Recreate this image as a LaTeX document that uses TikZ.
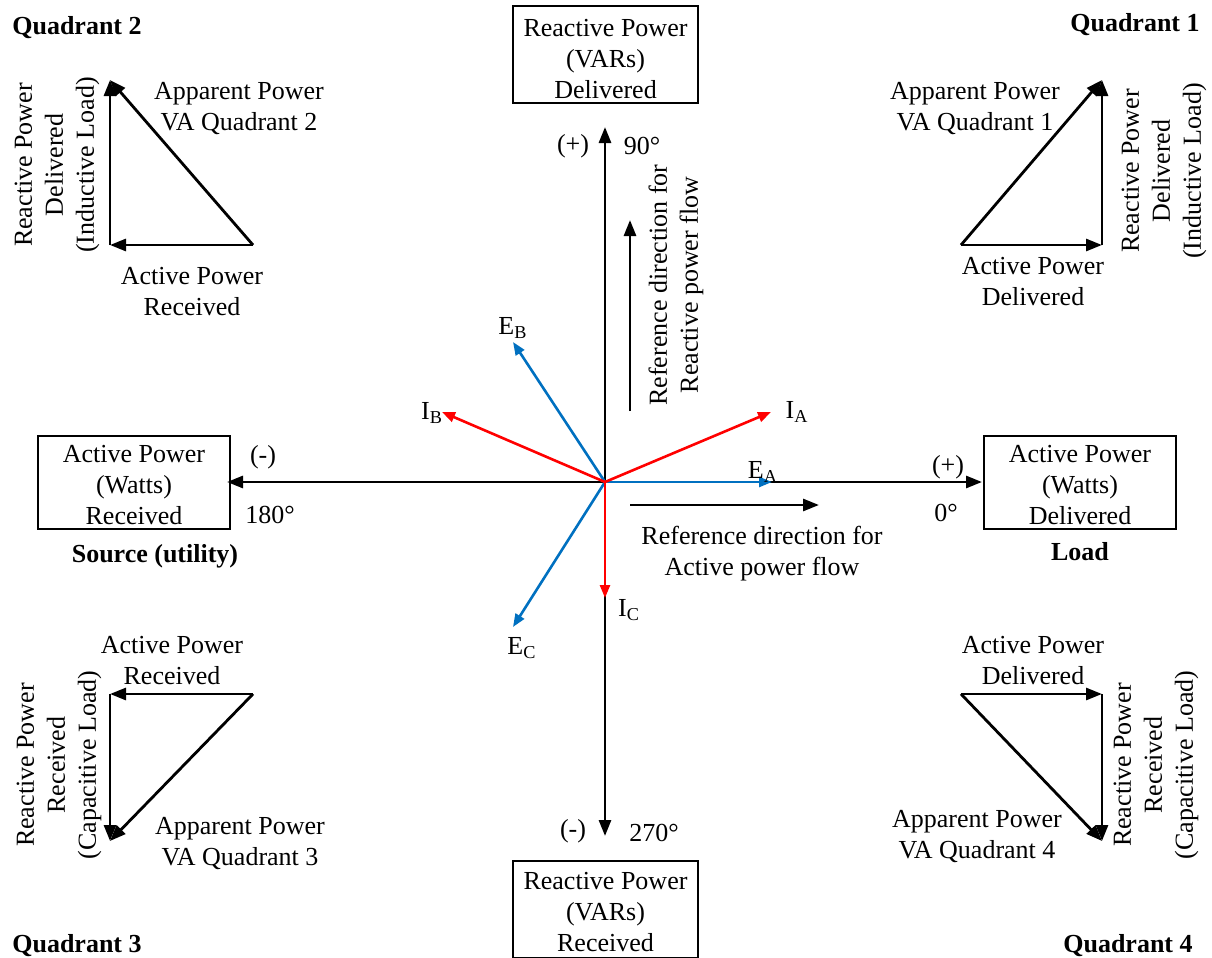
\documentclass[tikz,border=0pt]{standalone}
\usepackage{fontspec}
\setmainfont{Liberation Serif}
\usetikzlibrary{arrows.meta}
\definecolor{phaseblue}{RGB}{0,112,192}
\definecolor{phasered}{RGB}{255,0,0}
\begin{document}
\begin{tikzpicture}[x=0.5pt,y=-0.5pt,
  every node/.style={font=\fontsize{13}{15.5}\selectfont, inner sep=0pt, align=center},
  axisarrow/.style={line width=1.4pt, -{Triangle[length=8pt,width=6pt]}},
  powerarrow/.style={line width=1.4pt, -{Triangle[length=8pt,width=6pt]}},
  phasor/.style={line width=1.3pt, -{Triangle[length=6.5pt,width=5pt]}},
  vbox/.style={draw, line width=1pt, minimum width=92.5pt, minimum height=48.5pt},
  hbox/.style={draw, line width=1pt, minimum width=96pt, minimum height=46.5pt},
  vlabel/.style={rotate=90},
  qlabel/.style={font=\fontsize{13}{15.5}\selectfont\bfseries}]
\useasboundingbox (0,0) rectangle (1212,958);

% origin and axis end points
\coordinate (O) at (605,482);
\coordinate (up) at (605,127);
\coordinate (down) at (605,836);
\coordinate (left) at (227,482);
\coordinate (right) at (982,482);

% boxes at the four ends of the axes, with their texts
\node[vbox] (top) at (605.5,54) {};
\node (toptext) at (605.5,59) {Reactive Power\\(VARs)\\Delivered};
\node[vbox] (bottom) at (605.5,909) {};
\node (bottomtext) at (605.5,912) {Reactive Power\\(VARs)\\Received};
\node[hbox] (src) at (134,482) {};
\node (srctext) at (134,485) {Active Power\\(Watts)\\Received};
\node[hbox] (load) at (1080,482) {};
\node (loadtext) at (1080,485) {Active Power\\(Watts)\\Delivered};
\node[qlabel] (srclbl) at (155,556) {Source (utility)};
\node[qlabel] (loadlbl) at (1080,552) {Load};

% axes
\draw[axisarrow] (O) -- (up);
\draw[axisarrow] (O) -- (down);
\draw[axisarrow] (O) -- (left);
\draw[axisarrow] (O) -- (right);

\node (plusup) at (573,146) {(+)};
\node (deg90) at (642,146) {90°};
\node (minusdown) at (573,831) {(-)};
\node (deg270) at (654,833) {270°};
\node (minusleft) at (263,457) {(-)};
\node (deg180) at (270,515) {180°};
\node (plusright) at (948,467) {(+)};
\node (deg0) at (946,513) {0°};

% reference directions
\coordinate (rq0) at (630,411);
\coordinate (rq1) at (630,220);
\draw[powerarrow] (rq0) -- (rq1);
\node[vlabel] (rqtext) at (676,285) {Reference direction for\\Reactive power flow};
\coordinate (rp0) at (630,505);
\coordinate (rp1) at (819,505);
\draw[powerarrow] (rp0) -- (rp1);
\node (rptext) at (762,554) {Reference direction for\\Active power flow};

% phasors
\coordinate (EA) at (772,482);
\coordinate (IA) at (771,412);
\coordinate (EB) at (513,342);
\coordinate (IB) at (442,412);
\coordinate (EC) at (513,627);
\coordinate (IC) at (605,598);
\draw[phasor, phaseblue] (O) -- (EA);
\draw[phasor, phaseblue] (O) -- (EB);
\draw[phasor, phaseblue] (O) -- (EC);
\draw[phasor, phasered] (O) -- (IA);
\draw[phasor, phasered] (O) -- (IB);
\draw[phasor, phasered] (O) -- (IC);
\node (EAl) at (763,472) {E\textsubscript{A}};
\node (IAl) at (797,412) {I\textsubscript{A}};
\node (EBl) at (513,328) {E\textsubscript{B}};
\node (IBl) at (432,413) {I\textsubscript{B}};
\node (ECl) at (522,648) {E\textsubscript{C}};
\node (ICl) at (629,610) {I\textsubscript{C}};

% quadrant 2
\coordinate (q2a) at (253,245);
\coordinate (q2b) at (110,245);
\coordinate (q2c) at (110,80);
\draw[powerarrow] (q2a) -- (q2b);
\draw[powerarrow] (q2b) -- (q2c);
\draw[powerarrow] (q2a) -- (q2c);
\node[qlabel] (Q2) at (77,28) {Quadrant 2};
\node (q2s) at (239,109) {Apparent Power\\VA Quadrant 2};
\node (q2p) at (192,292) {Active Power\\Received};
\node[vlabel] (q2q) at (57,165) {Reactive Power\\Delivered\\(Inductive Load)};

% quadrant 1
\coordinate (q1a) at (961,245);
\coordinate (q1b) at (1102,245);
\coordinate (q1c) at (1102,80);
\draw[powerarrow] (q1a) -- (q1b);
\draw[powerarrow] (q1b) -- (q1c);
\draw[powerarrow] (q1a) -- (q1c);
\node[qlabel] (Q1) at (1135,25) {Quadrant 1};
\node (q1s) at (975,109) {Apparent Power\\VA Quadrant 1};
\node (q1p) at (1033,282) {Active Power\\Delivered};
\node[vlabel] (q1q) at (1164,171) {Reactive Power\\Delivered\\(Inductive Load)};

% quadrant 3
\coordinate (q3a) at (253,694);
\coordinate (q3b) at (110,694);
\coordinate (q3c) at (110,841);
\draw[powerarrow] (q3a) -- (q3b);
\draw[powerarrow] (q3b) -- (q3c);
\draw[powerarrow] (q3a) -- (q3c);
\node[qlabel] (Q3) at (77,946) {Quadrant 3};
\node (q3p) at (172,661) {Active Power\\Received};
\node (q3s) at (240,844) {Apparent Power\\VA Quadrant 3};
\node[vlabel] (q3q) at (59,765) {Reactive Power\\Received\\(Capacitive Load)};

% quadrant 4
\coordinate (q4a) at (961,694);
\coordinate (q4b) at (1102,694);
\coordinate (q4c) at (1102,841);
\draw[powerarrow] (q4a) -- (q4b);
\draw[powerarrow] (q4b) -- (q4c);
\draw[powerarrow] (q4a) -- (q4c);
\node[qlabel] (Q4) at (1128,946) {Quadrant 4};
\node (q4p) at (1033,661) {Active Power\\Delivered};
\node (q4s) at (977,837) {Apparent Power\\VA Quadrant 4};
\node[vlabel] (q4q) at (1156,765) {Reactive Power\\Received\\(Capacitive Load)};
\end{tikzpicture}
\end{document}
